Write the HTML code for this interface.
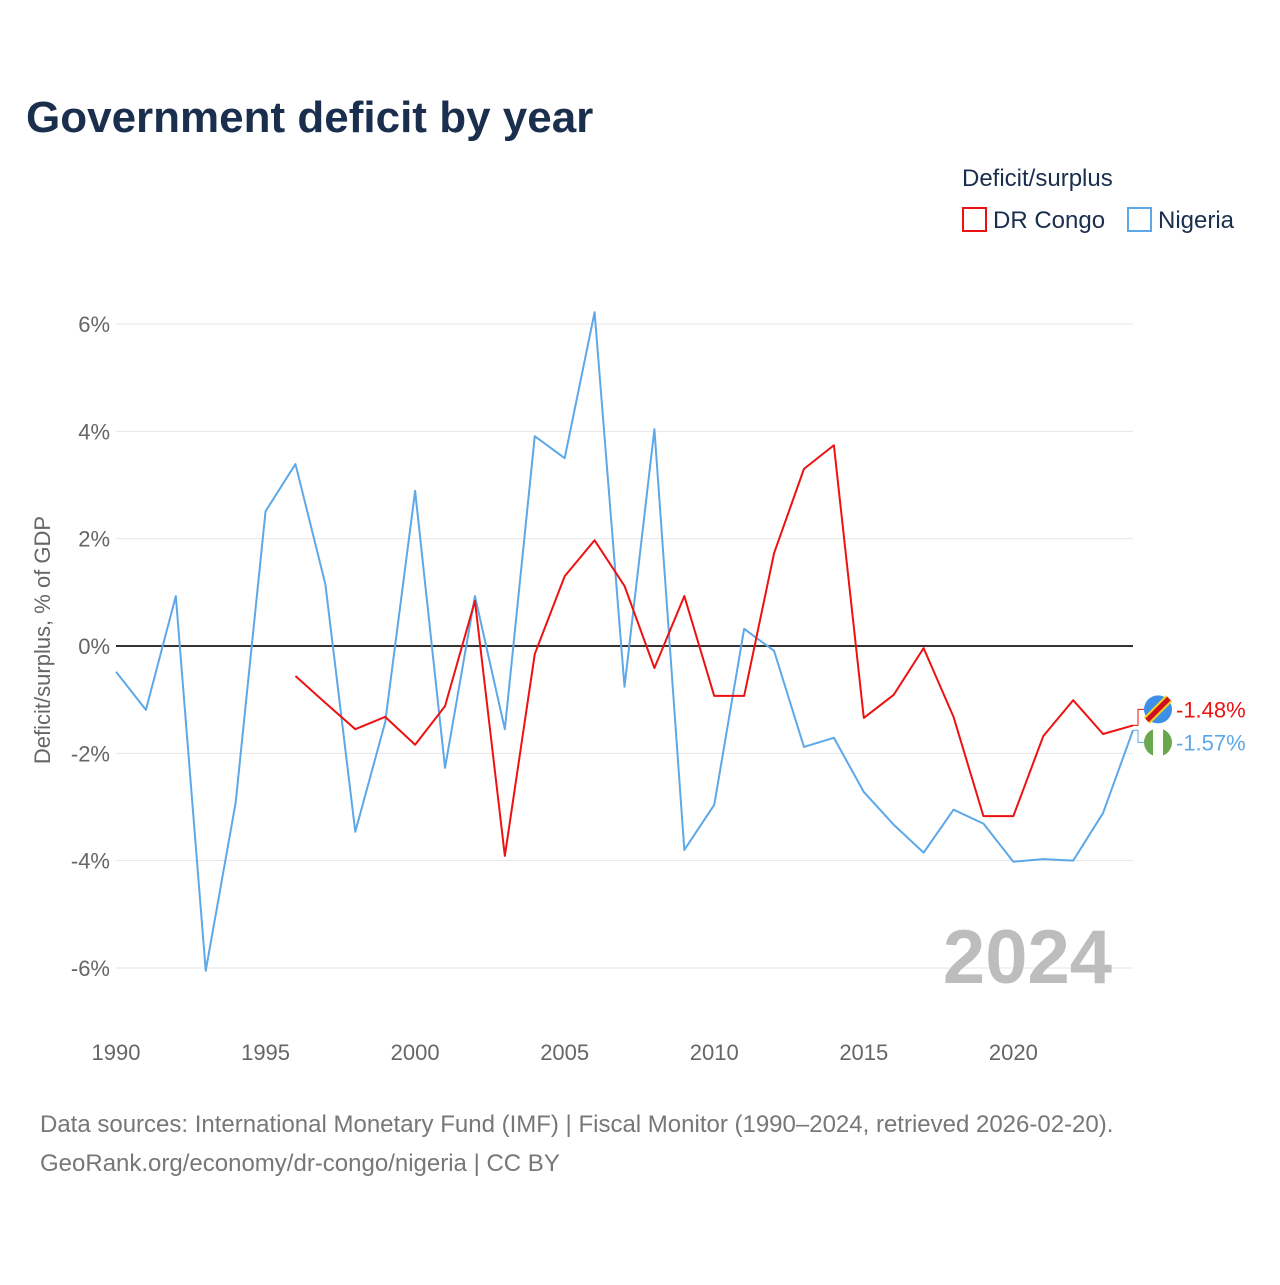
<!DOCTYPE html>
<html><head><meta charset="utf-8">
<style>
body{margin:0;background:#fff;font-family:"Liberation Sans",sans-serif}
svg text{font-family:"Liberation Sans",sans-serif}
</style></head>
<body>
<svg id="chart" width="1280" height="1280" viewBox="0 0 1280 1280">
<text x="26" y="132" font-size="44" font-weight="bold" fill="#1a2e4d">Government deficit by year</text>
<text x="962" y="186" font-size="24" fill="#1a2e4d">Deficit/surplus</text>
<g>
<rect x="963" y="208" width="23" height="23" fill="none" stroke="#ee1111" stroke-width="2"/>
<text x="993" y="228" font-size="24" fill="#1a2e4d">DR Congo</text></g>
<g>
<rect x="1128" y="208" width="23" height="23" fill="none" stroke="#5ca8e8" stroke-width="2"/>
<text x="1158" y="228" font-size="24" fill="#1a2e4d">Nigeria</text></g>
<g id="grid"></g>
<g id="xaxis"></g>
<text transform="translate(50,640) rotate(-90)" text-anchor="middle" font-size="22" fill="#666">Deficit/surplus, % of GDP</text>
<text x="1112" y="983" text-anchor="end" font-size="76" font-weight="bold" fill="#bdbdbd">2024</text>
<g id="series"></g>
<text x="40" y="1132" font-size="24" fill="#777">Data sources: International Monetary Fund (IMF) | Fiscal Monitor (1990–2024, retrieved 2026-02-20).</text>
<text x="40" y="1171" font-size="24" fill="#777">GeoRank.org/economy/dr-congo/nigeria | CC BY</text>
</svg>
<script>
const yTicks=[-6,-4,-2,0,2,4,6];
const xTicks=[1990,1995,2000,2005,2010,2015,2020];
const nigeriaYears=[1990,1991,1992,1993,1994,1995,1996,1997,1998,1999,2000,2001,2002,2003,2004,2005,2006,2007,2008,2009,2010,2011,2012,2013,2014,2015,2016,2017,2018,2019,2020,2021,2022,2023,2024];
const nigeriaValues=[-0.48,-1.19,0.93,-6.05,-2.92,2.51,3.39,1.15,-3.46,-1.42,2.89,-2.27,0.93,-1.55,3.91,3.50,6.22,-0.76,4.04,-3.80,-2.96,0.32,-0.09,-1.88,-1.71,-2.72,-3.33,-3.85,-3.05,-3.31,-4.02,-3.97,-4.00,-3.11,-1.57];
const congoYears=[1996,1997,1998,1999,2000,2001,2002,2003,2004,2005,2006,2007,2008,2009,2010,2011,2012,2013,2014,2015,2016,2017,2018,2019,2020,2021,2022,2023,2024];
const congoValues=[-0.56,-1.06,-1.55,-1.32,-1.84,-1.12,0.84,-3.91,-0.15,1.30,1.97,1.12,-0.41,0.93,-0.93,-0.93,1.73,3.30,3.74,-1.34,-0.91,-0.04,-1.32,-3.17,-3.17,-1.68,-1.01,-1.64,-1.48];
const NS="http://www.w3.org/2000/svg";
const X=y=>116+(y-1990)*(1133-116)/34;
const Y=v=>646-v*53.67;
function mk(tag,attrs,parent,txt){const e=document.createElementNS(NS,tag);for(const k in attrs)e.setAttribute(k,attrs[k]);if(txt!==undefined)e.textContent=txt;parent.appendChild(e);return e;}
const grid=document.getElementById('grid');
yTicks.forEach(t=>{
  const l=mk('line',{x1:116,x2:1133,y1:Y(t),y2:Y(t),stroke:t===0?'#333':'#e6e6e6','stroke-width':t===0?2:1},grid);
  
  
  const tx=mk('text',{x:110,y:Y(t)+8,'text-anchor':'end','font-size':22,fill:'#666'},grid,t+'%');
  
  
});
const xa=document.getElementById('xaxis');
xTicks.forEach(t=>{
  const tx=mk('text',{x:X(t),y:1060,'text-anchor':'middle','font-size':22,fill:'#666'},xa,String(t));
  
  
});
const s=document.getElementById('series');
function line(years,vals,color,name){
  const p=mk('polyline',{points:years.map((y,i)=>X(y)+','+Y(vals[i])).join(' '),fill:'none',stroke:color,'stroke-width':2,'stroke-linejoin':'round'},s);
  
  
}
line(nigeriaYears,nigeriaValues,'#5ca8e8','nigeria-line');
line(congoYears,congoValues,'#ee1111','dr-congo-line');
const cv=congoValues[congoValues.length-1], nv=nigeriaValues[nigeriaValues.length-1];
const cy=Y(cv)-16, ny=cy+33;
mk('path',{d:`M1133 ${Y(cv)} H1138 V${cy} H1145`,fill:'none',stroke:'#ee1111','stroke-width':1},s);
mk('path',{d:`M1133 ${Y(nv)} H1138 V${ny} H1145`,fill:'none',stroke:'#5ca8e8','stroke-width':1},s);
const f1=mk('g',{},s);


mk('circle',{cx:1158,cy:cy,r:14,fill:'#3d8fe8'},f1);
mk('line',{x1:1147,y1:cy+11,x2:1169,y2:cy-11,stroke:'#f7d618','stroke-width':9},f1);
mk('line',{x1:1147,y1:cy+11,x2:1169,y2:cy-11,stroke:'#ce1021','stroke-width':5},f1);
const f2=mk('g',{},s);


mk('circle',{cx:1158,cy:ny,r:14,fill:'#6aa84f'},f2);
mk('rect',{x:1153,y:ny-14,width:10,height:28,fill:'#fff'},f2);
const l1=mk('text',{x:1176,y:cy+8,'font-size':22,fill:'#ee1111'},s,cv.toFixed(2)+'%');


const l2=mk('text',{x:1176,y:ny+8,'font-size':22,fill:'#5ca8e8'},s,nv.toFixed(2)+'%');


</script>
</body></html>
